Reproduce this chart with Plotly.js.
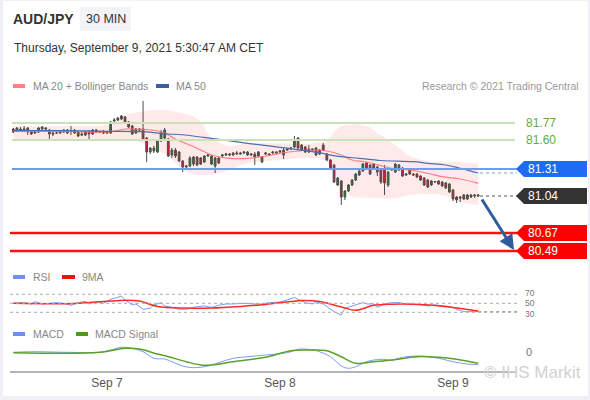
<!DOCTYPE html>
<html><head><meta charset="utf-8">
<script src="https://cdn.plot.ly/plotly-3.0.1.min.js"></script>
<style>
html,body{margin:0;padding:0;background:#fff;}
#wrap{position:relative;width:590px;height:400px;overflow:hidden;}
#chart{width:590px;height:400px;}
#frame{position:absolute;left:0;top:0;width:590px;height:400px;box-sizing:border-box;border-left:3px solid #eef0f3;border-bottom:4px solid #eef0f3;border-top:1px solid #f1f2f4;border-right:2px solid #eef0f3;pointer-events:none;}
</style></head><body>
<div id="wrap"><div id="chart"></div><div id="frame"></div></div>
<script>
// ---- DATA (30-minute candles, AUD/JPY, from 2021-09-06 11:00) ----
const startTime = Date.UTC(2021, 8, 6, 11, 0);
const openP  = [81.71,81.69,81.71,81.70,81.72,81.68,81.67,81.68,81.71,81.72,81.70,81.67,81.67,81.67,81.70,81.67,81.69,81.70,81.68,81.66,
81.65,81.68,81.66,81.70,81.68,81.68,81.67,81.67,81.79,81.80,81.81,81.83,81.78,81.74,81.67,81.71,81.71,81.62,81.48,81.49,
81.48,81.59,81.62,81.61,81.45,81.50,81.48,81.39,81.33,81.34,81.36,81.43,81.42,81.38,81.44,81.44,81.34,81.42,81.44,81.45,
81.46,81.45,81.46,81.47,81.47,81.48,81.45,81.46,81.48,81.38,81.46,81.46,81.47,81.48,81.48,81.45,81.51,81.51,81.53,81.62,
81.55,81.53,81.48,81.50,81.52,81.46,81.55,81.46,81.40,81.35,81.22,81.19,81.03,81.09,81.15,81.20,81.25,81.29,81.37,81.35,
81.36,81.28,81.30,81.30,81.15,81.30,81.28,81.30,81.32,81.25,81.30,81.26,81.26,81.24,81.22,81.20,81.15,81.18,81.19,81.18,
81.17,81.16,81.10,81.03,81.03,81.05,81.01,81.05,81.04,81.05];
const highP  = [81.72,81.73,81.73,81.74,81.73,81.69,81.69,81.73,81.74,81.73,81.71,81.68,81.68,81.70,81.71,81.71,81.74,81.71,81.69,81.68,
81.69,81.70,81.71,81.71,81.69,81.70,81.69,81.79,81.82,81.83,81.85,81.84,81.79,81.75,81.72,81.72,81.99,81.63,81.53,81.54,
81.60,81.70,81.72,81.62,81.52,81.52,81.49,81.40,81.35,81.44,81.44,81.44,81.43,81.45,81.46,81.45,81.43,81.43,81.46,81.47,
81.47,81.48,81.49,81.48,81.49,81.49,81.47,81.48,81.49,81.44,81.48,81.47,81.49,81.49,81.50,81.52,81.52,81.53,81.64,81.63,
81.56,81.54,81.55,81.51,81.53,81.51,81.57,81.47,81.41,81.36,81.23,81.20,81.10,81.16,81.21,81.27,81.30,81.37,81.38,81.36,
81.37,81.34,81.32,81.35,81.29,81.32,81.37,81.36,81.33,81.27,81.31,81.27,81.27,81.25,81.23,81.21,81.20,81.19,81.20,81.19,
81.18,81.17,81.11,81.04,81.04,81.06,81.06,81.06,81.06,81.06];
const lowP   = [81.67,81.68,81.69,81.68,81.65,81.65,81.66,81.67,81.70,81.70,81.59,81.64,81.66,81.66,81.67,81.66,81.65,81.66,81.63,81.64,
81.64,81.60,81.65,81.67,81.67,81.66,81.66,81.66,81.78,81.79,81.80,81.77,81.72,81.65,81.66,81.69,81.60,81.38,81.46,81.47,
81.47,81.58,81.61,81.43,81.42,81.42,81.38,81.28,81.32,81.33,81.34,81.34,81.35,81.37,81.43,81.35,81.27,81.36,81.43,81.44,
81.44,81.44,81.45,81.46,81.46,81.44,81.44,81.35,81.43,81.37,81.45,81.44,81.46,81.47,81.47,81.41,81.50,81.50,81.52,81.51,
81.49,81.47,81.47,81.49,81.44,81.45,81.49,81.39,81.30,81.17,81.14,80.95,81.00,81.08,81.14,81.19,81.24,81.28,81.30,81.25,
81.30,81.24,81.16,81.05,81.13,81.29,81.27,81.29,81.23,81.24,81.25,81.24,81.22,81.19,81.14,81.12,81.14,81.17,81.15,81.13,
81.11,81.07,80.99,80.97,80.98,81.00,81.00,81.02,81.02,81.03];
const closeP = [81.68,81.72,81.70,81.71,81.68,81.66,81.68,81.72,81.73,81.71,81.66,81.66,81.67,81.69,81.68,81.70,81.69,81.67,81.64,81.65,
81.68,81.66,81.70,81.68,81.685,81.67,81.68,81.78,81.80,81.82,81.84,81.78,81.73,81.66,81.71,81.70,81.61,81.48,81.52,81.52,
81.59,81.67,81.70,81.44,81.50,81.44,81.39,81.33,81.34,81.42,81.43,81.35,81.36,81.44,81.45,81.36,81.42,81.37,81.45,81.46,
81.45,81.47,81.47,81.46,81.48,81.45,81.46,81.43,81.44,81.43,81.47,81.45,81.48,81.47,81.49,81.50,81.50,81.52,81.59,81.52,
81.50,81.48,81.51,81.51,81.45,81.50,81.50,81.40,81.31,81.18,81.15,81.03,81.09,81.15,81.20,81.26,81.29,81.36,81.31,81.26,
81.31,81.33,81.18,81.17,81.28,81.31,81.36,81.35,81.24,81.26,81.26,81.25,81.23,81.20,81.15,81.13,81.19,81.185,81.16,81.14,
81.12,81.08,81.01,81.00,81.02,81.01,81.05,81.03,81.05,81.04];

// indicator readings (candle index, value)
const ma20Idx = [0,15,27,31,36,41,45,51,55,60,65,69,74,79,83,87,91,94,98,105,110,115,119,124,129];
const ma20Val = [81.685,81.685,81.683,81.71,81.707,81.683,81.61,81.517,81.45,81.417,81.417,81.433,81.467,81.49,81.50,81.49,81.45,81.40,81.38,81.317,81.30,81.267,81.233,81.21,81.167];
const ma50Idx = [0,15,27,36,43,46,52,55,65,74,83,91,96,102,111,115,120,124,129];
const ma50Val = [81.693,81.693,81.687,81.683,81.66,81.655,81.63,81.617,81.567,81.527,81.483,81.433,81.417,81.395,81.383,81.367,81.35,81.317,81.27];
const bbUpIdx = [0,15,27,31,36,41,45,49,52,55,60,65,74,83,87,90,92,98,101,106,110,115,124,129];
const bbUpVal = [81.74,81.74,81.76,81.85,81.883,81.90,81.88,81.85,81.78,81.62,81.54,81.567,81.567,81.567,81.60,81.717,81.75,81.74,81.67,81.55,81.44,81.39,81.38,81.36];
const bbLoIdx = [0,15,27,36,43,48,52,57,65,74,83,87,91,94,98,106,110,119,124,129];
const bbLoVal = [81.59,81.59,81.60,81.57,81.433,81.283,81.25,81.267,81.367,81.40,81.417,81.383,81.167,81.033,81.025,81.017,81.05,81.05,80.983,80.95];

const rsiIdx = [0,3,5,6,8,10,12,14,16,18,20,21,23,25,27,29,30,31,33,34,36,38,39,41,42,44,46,48,51,53,55,57,59,61,64,67,69,71,74,76,78,79,81,83,84,86,87,89,91,92,94,97,98,100,101,103,105,107,109,111,113,115,117,120,122,123,125,126,129];
const rsiVal = [50,51.5,48.5,53.7,48.5,50,51.5,50,45.5,51.5,54.4,48.5,53.7,50,58.9,63.3,66.3,57.4,46.3,48.5,36.7,38.9,46.3,51.5,44,41.1,36.7,36.7,42.6,44,41.1,45.5,48.5,48.5,50,48.5,48.5,51.5,53,57.4,63.3,58.9,51.5,48.5,53,48.5,42.6,31.5,24,38.9,44,51.5,48.5,48.5,41.1,48.5,51.5,51.5,48.5,48.5,47,44,46.3,44,41.1,36.7,31.5,31.5,31.5];
const rsiMaIdx = [0,17,27,31,35,40,48,55,63,70,77,80,85,91,95,100,105,114,121,129];
const rsiMaVal = [50,49.5,55,57,55,43,39.5,39.5,43,47.5,54,56,54,42,34.5,45.5,48,47,42,33];
const rsiLevels = [70,50,30];

const macdIdx = [0,5,15,24,27,30,33,36,39,42,44,47,50,54,57,61,65,70,76,79,80,84,88,91,93,95,98,102,105,108,112,118,122,126,129];
const macdVal = [-0.0015,0.0015,-0.0015,-0.0015,0.01,0.0235,0.0185,0.0015,-0.0315,-0.035,-0.0485,-0.07,-0.0785,-0.07,-0.0535,-0.0315,-0.0235,-0.015,-0.0035,0.0135,0.015,0.0065,-0.0235,-0.07,-0.0815,-0.0735,-0.0485,-0.0365,-0.04,-0.0265,-0.02,-0.0315,-0.0485,-0.06,-0.0635];
const sigIdx = [0,24,31,35,40,43,48,52,55,61,70,77,82,87,91,95,100,105,112,118,123,129];
const sigVal = [-0.0035,-0.0015,0.0185,0.015,-0.01,-0.0235,-0.0485,-0.065,-0.065,-0.0485,-0.0265,0.0065,0.01,0.0065,-0.0235,-0.0565,-0.0485,-0.04,-0.0235,-0.0265,-0.0365,-0.0565];

const greenLevels = [81.77, 81.60];
const pivotLevel = 81.31;
const lastPrice = 81.04;
const redLevels = [80.67, 80.49];
const tickVals = ['2021-09-07','2021-09-08','2021-09-09'];
const tickText = ['Sep 7','Sep 8','Sep 9'];

// ---- helpers ----
function tOf(i){ return new Date(startTime + i*1800000).toISOString().slice(0,19).replace('T',' '); }
const times = openP.map((_,i)=>tOf(i));
const px = x => (x-10)/507;
const py = y => (371-y)/281;
const FONT = 'Liberation Sans, Arial, sans-serif';

const xRange = [tOf(-0.92), tOf(139.76)];
const priceRange = [80.38, 82.05];

const traces = [
  {type:'scatter', x:bbUpIdx.map(tOf), y:bbUpVal, mode:'lines', line:{width:0, shape:'spline'}, yaxis:'y', hoverinfo:'skip'},
  {type:'scatter', x:bbLoIdx.map(tOf), y:bbLoVal, mode:'lines', line:{width:0, shape:'spline'}, fill:'tonexty', fillcolor:'rgba(255,170,170,0.26)', yaxis:'y', hoverinfo:'skip'},
  {type:'candlestick', x:times, open:openP, high:highP, low:lowP, close:closeP, yaxis:'y4',
   increasing:{line:{color:'#4d4d4d', width:1}, fillcolor:'#1e8a1e'},
   decreasing:{line:{color:'#4d4d4d', width:1}, fillcolor:'#e8141c'}, whiskerwidth:0},
  {type:'scatter', x:ma20Idx.map(tOf), y:ma20Val, mode:'lines', line:{color:'rgba(255,110,110,0.85)', width:1.2, shape:'spline'}, yaxis:'y5'},
  {type:'scatter', x:ma50Idx.map(tOf), y:ma50Val, mode:'lines', line:{color:'#4a6fb0', width:1.2, shape:'spline'}, yaxis:'y5'},
  {type:'scatter', x:rsiIdx.map(tOf), y:rsiVal, mode:'lines', line:{color:'#7d9cf2', width:1}, yaxis:'y2'},
  {type:'scatter', x:rsiMaIdx.map(tOf), y:rsiMaVal, mode:'lines', line:{color:'#ff2a2a', width:1.5, shape:'spline'}, yaxis:'y2'},
  {type:'scatter', x:macdIdx.map(tOf), y:macdVal, mode:'lines', line:{color:'#7d9cf2', width:1, shape:'spline'}, yaxis:'y3'},
  {type:'scatter', x:sigIdx.map(tOf), y:sigVal, mode:'lines', line:{color:'#5aa02c', width:1.5, shape:'spline'}, yaxis:'y3'}
];

const shapes = [];
const ann = [];
// horizontal levels
greenLevels.forEach(v=>{
  shapes.push({type:'line', xref:'paper', yref:'y', x0:px(12), x1:px(515), y0:v, y1:v, line:{color:'#c8e1b6', width:2}});
  ann.push({xref:'paper', yref:'y', x:px(524), y:v, text:v.toFixed(2), showarrow:false, xanchor:'left', yanchor:'middle', font:{family:FONT, size:12, color:'#6aaa3a'}});
});
shapes.push({type:'line', xref:'paper', yref:'y', x0:px(12), x1:px(517), y0:pivotLevel, y1:pivotLevel, line:{color:'#6f9cf0', width:2}});
redLevels.forEach(v=>{
  shapes.push({type:'line', xref:'paper', yref:'y', x0:px(10), x1:px(517), y0:v, y1:v, line:{color:'#ff1010', width:2.5}});
});
// dotted extensions
shapes.push({type:'line', xref:'x', yref:'y', x0:tOf(129.5), x1:xRange[1], y0:lastPrice, y1:lastPrice, line:{color:'#555', width:1, dash:'dot'}});
shapes.push({type:'line', xref:'x', yref:'y', x0:tOf(129.5), x1:xRange[1], y0:ma50Val[ma50Val.length-1], y1:ma50Val[ma50Val.length-1], line:{color:'#7f9bd0', width:1, dash:'dot'}});
// value boxes
function box(v, color){
  const h = 0.08;
  shapes.push({type:'path', xref:'paper', yref:'y',
    path:`M ${px(516)} ${v} L ${px(524)} ${v+h} L ${px(587)} ${v+h} L ${px(587)} ${v-h} L ${px(524)} ${v-h} Z`,
    fillcolor:color, line:{width:0}});
  ann.push({xref:'paper', yref:'y', x:px(526), y:v, text:v.toFixed(2), showarrow:false, xanchor:'left', yanchor:'middle', font:{family:FONT, size:12, color:'#fff'}});
}
box(pivotLevel, '#1f6cf0');
box(lastPrice, '#333333');
redLevels.forEach(v=>box(v, '#ff0000'));
// arrow
ann.push({xref:'paper', yref:'y', x:px(514), y:80.50, ax:-33, ay:-52, text:'', showarrow:true, arrowhead:2, arrowsize:1, arrowwidth:3, arrowcolor:'#2e5c9e'});
// RSI levels
const rsiShift = [1.5, 0, -1.5];
rsiLevels.forEach((v,k)=>{
  shapes.push({type:'line', xref:'paper', yref:'y2', x0:0, x1:1, y0:v, y1:v, line:{color:'#aaa', width:1, dash:'dot'}});
  ann.push({xref:'paper', yref:'y2', x:px(524), y:v, yshift:rsiShift[k], text:String(v), showarrow:false, xanchor:'left', yanchor:'middle', borderpad:0, font:{family:FONT, size:8.5, color:'#777'}});
});
shapes.push({type:'line', xref:'x', yref:'y2', x0:tOf(129), x1:xRange[1], y0:rsiVal[rsiVal.length-1], y1:rsiVal[rsiVal.length-1], line:{color:'#7d9cf2', width:1, dash:'dot'}});
ann.push({xref:'paper', yref:'y3', x:px(524), y:0, text:'0', showarrow:false, xanchor:'left', yanchor:'middle', font:{family:FONT, size:11, color:'#777'}});

// header
function label(x, y, text, size, color, anchor){
  ann.push({xref:'paper', yref:'paper', x:px(x), y:py(y), text:text, showarrow:false, xanchor:anchor||'left', yanchor:'middle', font:{family:FONT, size:size, color:color}});
}
function swatch(x0, x1, y, color){
  shapes.push({type:'rect', xref:'paper', yref:'paper', x0:px(x0), x1:px(x1), y0:py(y+2), y1:py(y-2), fillcolor:color, line:{width:0}});
}
label(11, 19, '<b>AUD/JPY</b>', 14, '#333');
shapes.push({type:'rect', xref:'paper', yref:'paper', x0:px(80), x1:px(131), y0:py(31), y1:py(7), fillcolor:'#f2f3f5', line:{width:0}});
label(105.5, 19, '30 MIN', 12.5, '#333', 'center');
label(12, 48, 'Thursday, September 9, 2021 5:30:47 AM CET', 12, '#333');
swatch(13, 25, 86, '#ff8080'); label(31, 86, 'MA 20 + Bollinger Bands', 10.5, '#888');
swatch(156, 169, 86, '#3a5f9f'); label(174, 86, 'MA 50', 10.5, '#888');
label(581, 86, 'Research © 2021 Trading Central', 10.5, '#999', 'right');
swatch(13, 25, 277, '#6f8fe8'); label(31, 277, 'RSI', 10.5, '#888');
swatch(62, 75, 277, '#ee1111'); label(80, 277, '9MA', 10.5, '#888');
swatch(13, 25, 334, '#6f8fe8'); label(31, 334, 'MACD', 10.5, '#888');
swatch(76, 88, 334, '#4e9a1e'); label(93, 334, 'MACD Signal', 10.5, '#888');
label(583, 372, '© IHS Markit', 17, '#d2d2d2', 'right');

const hiddenY = {showgrid:false, zeroline:false, showticklabels:false, ticks:'', showline:false, fixedrange:true};
const layout = {
  width:590, height:400,
  margin:{l:10, r:73, t:90, b:29},
  paper_bgcolor:'#fff', plot_bgcolor:'rgba(0,0,0,0)',
  showlegend:false,
  font:{family:FONT},
  xaxis:{type:'date', range:xRange, anchor:'y3', domain:[0,1], rangeslider:{visible:false},
    tickvals:tickVals, ticktext:tickText, ticks:'', showgrid:false, zeroline:false,
    showline:true, linecolor:'#b5b5b5', linewidth:2, tickfont:{family:FONT, size:12, color:'#555'}},
  yaxis:Object.assign({domain:[py(262), py(95)], range:priceRange}, hiddenY),
  yaxis4:Object.assign({overlaying:'y', range:priceRange}, hiddenY),
  yaxis5:Object.assign({overlaying:'y', range:priceRange}, hiddenY),
  yaxis2:Object.assign({domain:[py(320), py(285)], range:[12.9, 90.7]}, hiddenY),
  yaxis3:Object.assign({domain:[0, py(340.1)], range:[-0.095, 0.0595]}, hiddenY),
  shapes:shapes, annotations:ann
};
Plotly.newPlot('chart', traces, layout, {staticPlot:true, displayModeBar:false});
</script>
</body></html>
